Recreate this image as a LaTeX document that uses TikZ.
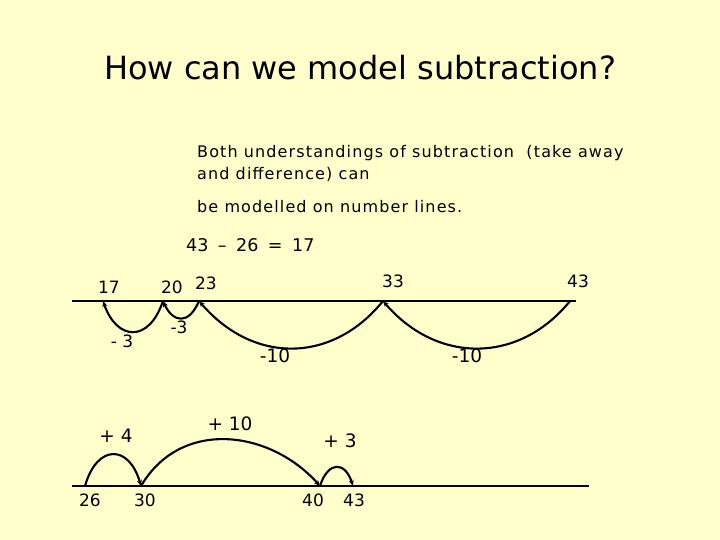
\documentclass[tikz,border=0pt]{standalone}
\usepackage{fontspec}
\setmainfont{DejaVu Sans}
\newfontfamily\spaced[LetterSpace=7]{DejaVu Sans}
\usetikzlibrary{arrows.meta}
\definecolor{bg}{HTML}{FFFFCC}
\begin{document}
\begin{tikzpicture}[x=1pt,y=-1pt,
  lbl/.style={inner sep=0pt,font=\fontsize{17}{20}\selectfont},
  lbls/.style={inner sep=0pt,font=\fontsize{18.5}{20}\selectfont},
  lblb/.style={inner sep=0pt,font=\fontsize{17}{18}\selectfont},
  lblp/.style={inner sep=0pt,font=\fontsize{18.5}{20}\selectfont},
  txt/.style={inner sep=0pt,anchor=west,font=\spaced\fontsize{16}{18}\selectfont},
  arcline/.style={line width=2.1pt,-{Stealth[length=6pt,width=5pt]}}]
\path[fill=bg] (0,0) rectangle (720,540);
\node[inner sep=0pt,font=\fontsize{32}{36}\selectfont] (title) at (360,68) {How can we model subtraction?};
\node[txt] (p1) at (197,153) {Both understandings of subtraction\ \ (take away};
\node[txt] (p2) at (197,174) {and difference) can};
\node[txt] (p3) at (197,207) {be modelled on number lines.};
\node[inner sep=0pt,anchor=west,font=\fontsize{17.5}{18}\selectfont] (eq) at (186,245) {43\hspace{9.5pt}–\hspace{9.5pt}26\hspace{9.5pt}=\hspace{9.5pt}17};
% top number line
\coordinate (tl) at (72,301);
\coordinate (tr) at (576,301);
\draw[line width=2.8pt] (tl) -- (tr);
\coordinate (t17) at (103,301);
\coordinate (t20) at (163,301);
\coordinate (t23) at (199,301);
\coordinate (t33) at (383,301);
\coordinate (t43) at (570,301);
\node[lbl] (l17) at (109,287) {17};
\node[lbl] (l20) at (172,287) {20};
\node[lbl] (l23) at (206,283) {23};
\node[lbl] (l33) at (393,281) {33};
\node[lbl] (l43) at (578,281) {43};
\draw[arcline] (t43) .. controls +(-50,62) and +(55,64) .. (t33);
\draw[arcline] (t33) .. controls +(-50,62) and +(55,64) .. (t23);
\draw[arcline] (t23) .. controls +(-10,24) and +(10,22) .. (t20);
\draw[arcline] (t20) .. controls +(-14,42) and +(14,40) .. (t17);
\node[lbl] (m1) at (122,341) {- 3};
\node[lbl] (m2) at (179,327) {-3};
\node[lbls] (m3) at (275,356) {-10};
\node[lbls] (m4) at (467,356) {-10};
% bottom number line
\coordinate (bl) at (72,486);
\coordinate (br) at (589,486);
\draw[line width=1.3pt] (bl) -- (br);
\coordinate (b26) at (85,486);
\coordinate (b30) at (141,486);
\coordinate (b40) at (320,486);
\coordinate (b43) at (353,486);
\node[lblb] (n26) at (90,500) {26};
\node[lblb] (n30) at (145,500) {30};
\node[lblb] (n40) at (313,500) {40};
\node[lblb] (n43) at (354,500) {43};
\draw[arcline] (b26) .. controls +(12,-42) and +(-12,-42) .. (b30);
\draw[arcline] (b30) .. controls +(40,-68) and +(-50,-56) .. (b40);
\draw[arcline] (b40) .. controls +(8,-25) and +(-8,-25) .. (b43);
\node[lblp] (p4) at (116,436) {+ 4};
\node[lblp] (p10) at (230,424) {+ 10};
\node[lblp] (p3b) at (340,441) {+ 3};
\end{tikzpicture}
\end{document}
